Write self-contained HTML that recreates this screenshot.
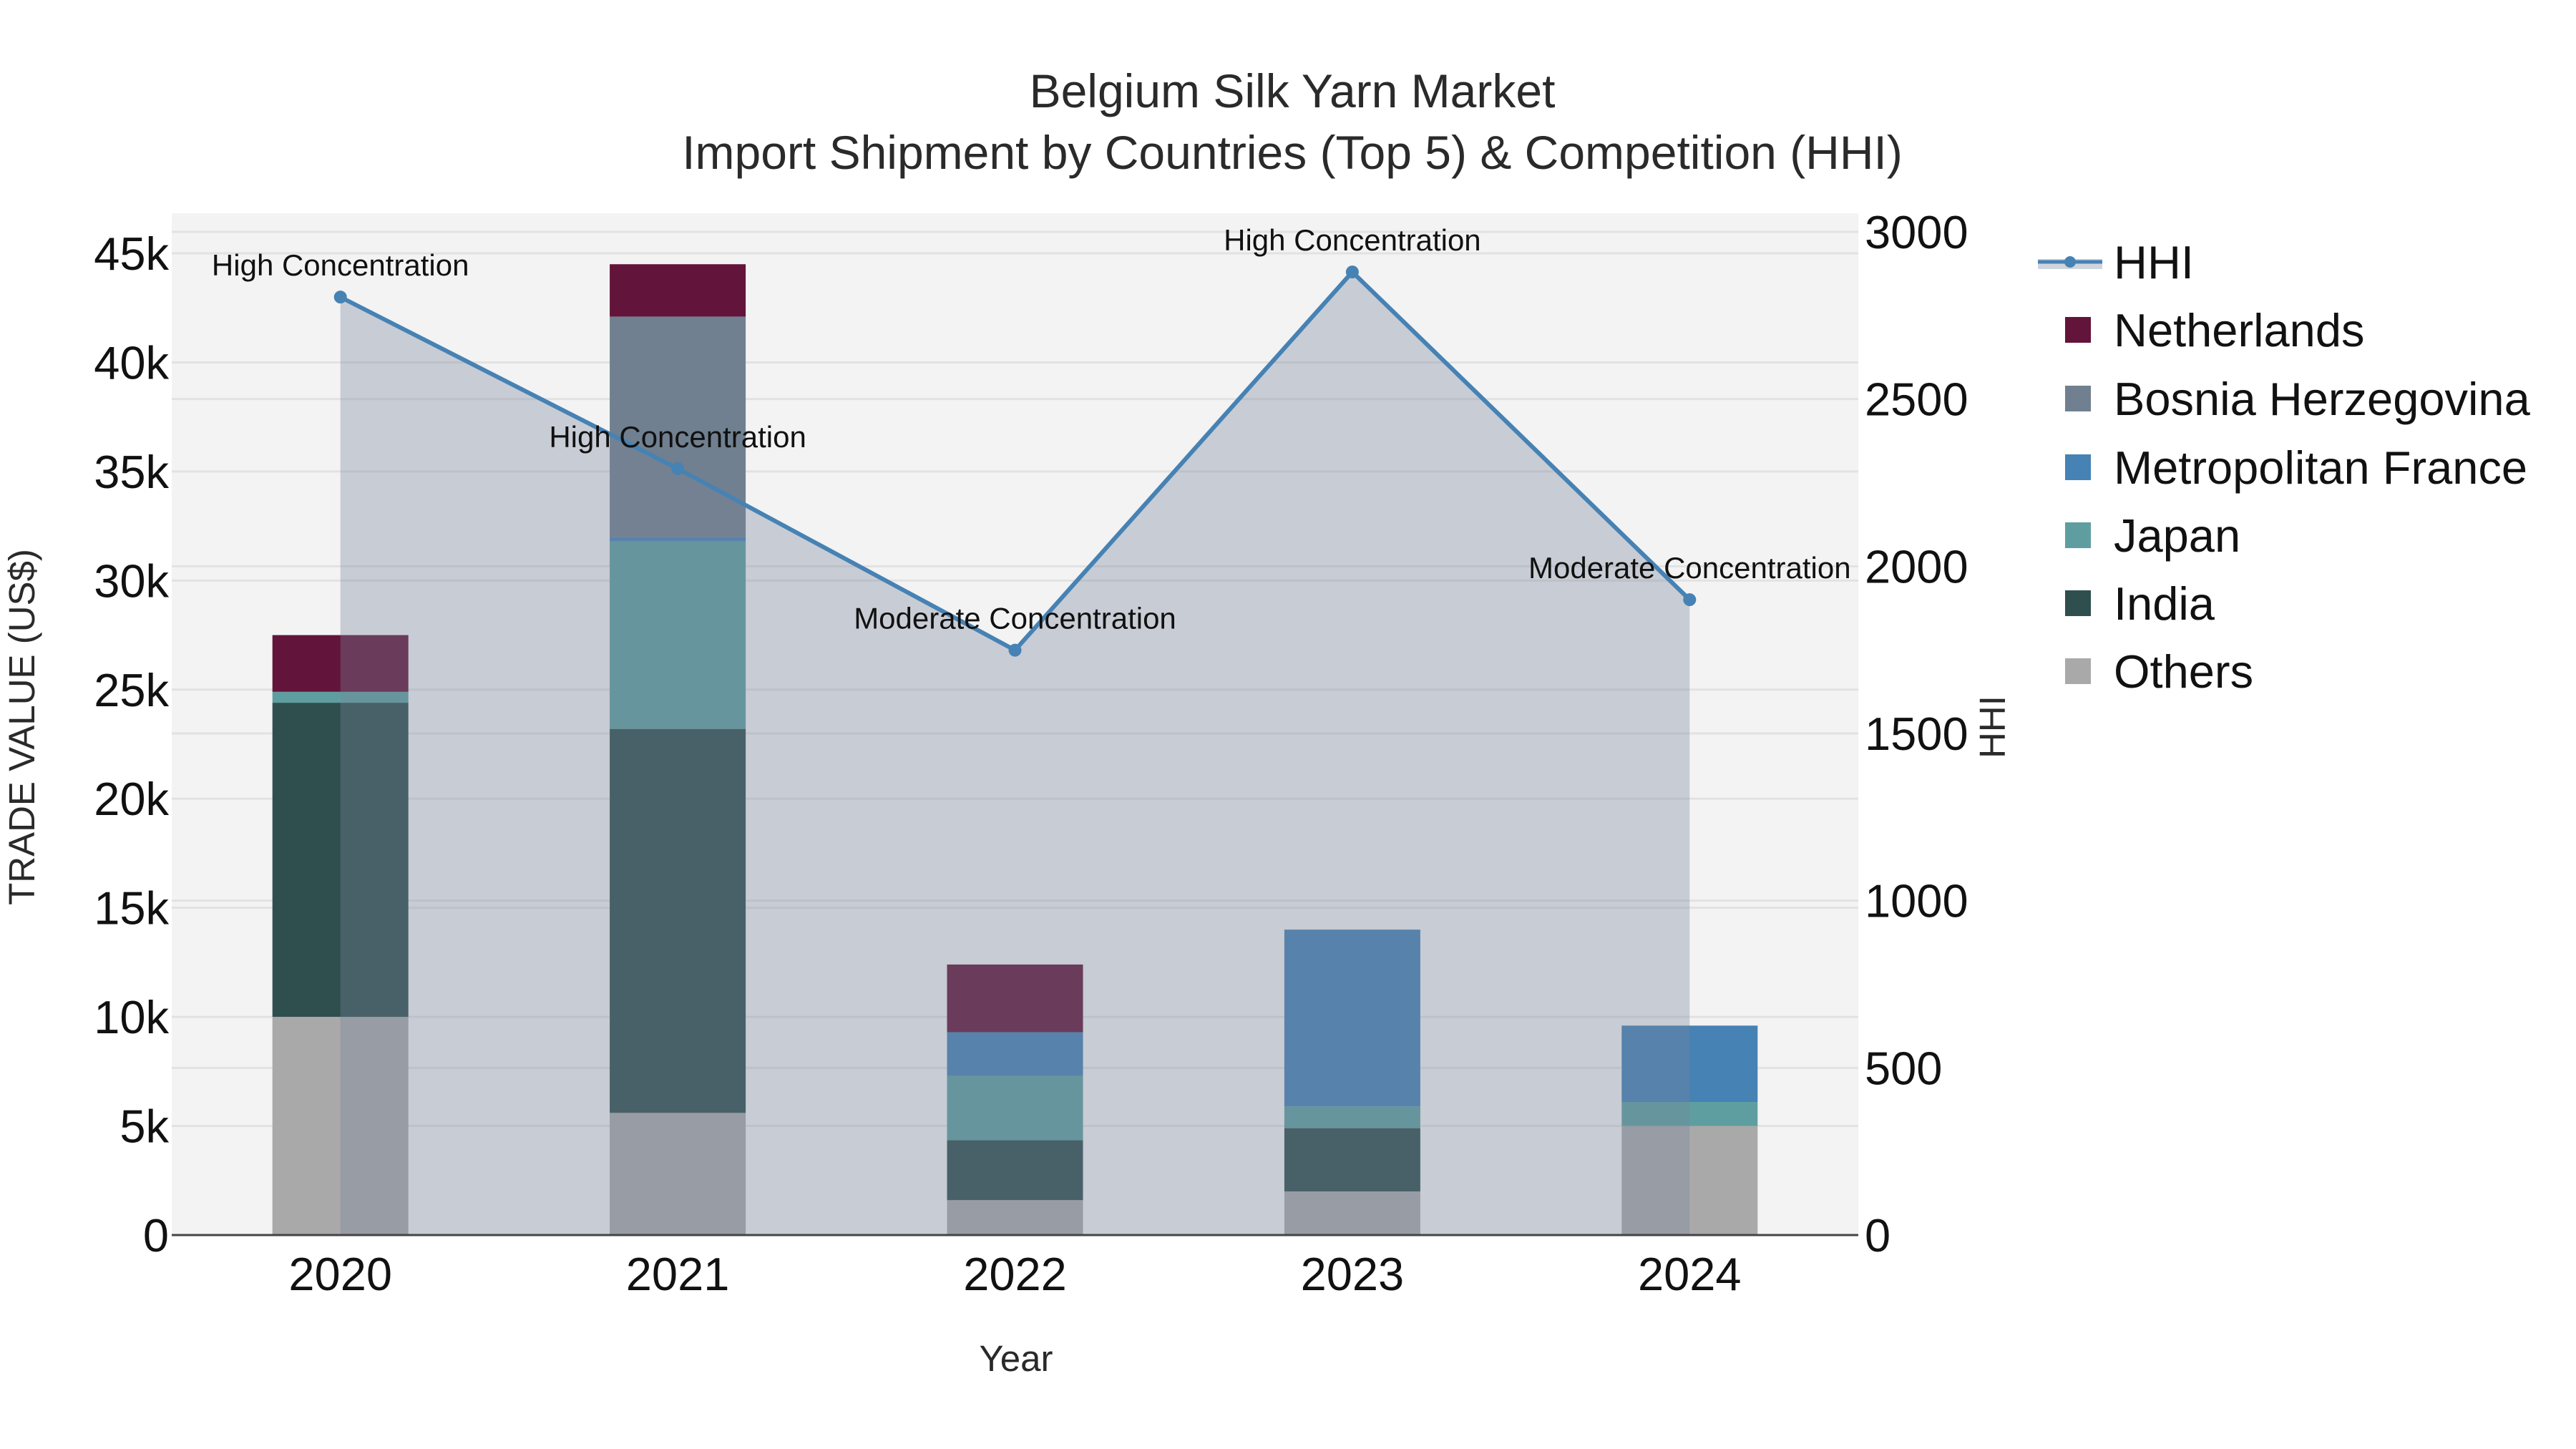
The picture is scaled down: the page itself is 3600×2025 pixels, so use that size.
<!DOCTYPE html>
<html><head><meta charset="utf-8"><style>
html,body{margin:0;padding:0;background:#fff;}
svg{display:block;font-family:"Liberation Sans",Arial,sans-serif;}
</style></head><body>
<svg id="chart" width="3600" height="2025" viewBox="0 0 3600 2025" xmlns="http://www.w3.org/2000/svg">
<rect x="0" y="0" width="3600" height="2025" fill="#fff"/>
<text x="1806" y="150" text-anchor="middle" font-size="66" fill="#2a2a2a">Belgium Silk Yarn Market</text>
<text x="1806" y="236" text-anchor="middle" font-size="66" fill="#2a2a2a">Import Shipment by Countries (Top 5) &amp; Competition (HHI)</text>
<rect x="240" y="298" width="2357" height="1428" fill="#f3f3f3"/>
<g id="grid"></g>
<g id="bars"></g>
<g id="hhi"></g>
<g id="axes"></g>
<text x="1420" y="1916" text-anchor="middle" font-size="51" fill="#2a2a2a">Year</text>
<text transform="translate(48,1016) rotate(-90)" text-anchor="middle" font-size="51" fill="#2a2a2a">TRADE VALUE (US$)</text>
<text transform="translate(2802,1016) rotate(-90)" text-anchor="middle" font-size="51" fill="#2a2a2a">HHI</text>
<g id="legend"></g>
</svg>
<script>
const years = ["2020","2021","2022","2023","2024"];
const others = [10000, 5600, 1600, 2000, 5000];
const india = [14400, 17600, 2750, 2900, 0];
const japan = [500, 8600, 2950, 1000, 1100];
const france = [0, 200, 2000, 8100, 3500];
const bosnia = [0, 10100, 0, 0, 0];
const netherlands = [2600, 2400, 3100, 0, 0];
const hhi = [2805, 2292, 1749, 2880, 1900];
const hhiLabels = ["High Concentration","High Concentration","Moderate Concentration","High Concentration","Moderate Concentration"];
const yTicks = [0,5000,10000,15000,20000,25000,30000,35000,40000,45000];
const y2Ticks = [0,500,1000,1500,2000,2500,3000];

const NS="http://www.w3.org/2000/svg";
const X0=240, X1=2597, ZERO=1726;
const band=(X1-X0)/years.length, barW=190;
const xc=i=>X0+band*(i+0.5);
const y=v=>ZERO-v*(1372/45000);
const y2=v=>ZERO-v*(1402/3000);
function mk(tag,attrs,parent){const e=document.createElementNS(NS,tag);for(const k in attrs)e.setAttribute(k,attrs[k]);parent.appendChild(e);return e;}
const fmt=v=>v===0?"0":(v/1000)+"k";

const grid=document.getElementById('grid');
yTicks.forEach(t=>{const l=mk('line',{x1:X0,x2:X1,y1:y(t),y2:y(t),stroke:'#e2e2e2','stroke-width':3},grid);

});
y2Ticks.forEach(t=>{const l=mk('line',{x1:X0,x2:X1,y1:y2(t),y2:y2(t),stroke:'#e2e2e2','stroke-width':3},grid);

});

const series=[["Others",others,"#a9a9a9"],["India",india,"#2f4f4f"],["Japan",japan,"#5f9ea0"],["Metropolitan France",france,"#4682b4"],["Bosnia Herzegovina",bosnia,"#708090"],["Netherlands",netherlands,"#63143a"]];
const bars=document.getElementById('bars');
years.forEach((yr,i)=>{let base=0;series.forEach(([name,vals,col])=>{const v=vals[i];if(v>0){const r=mk('rect',{x:xc(i)-barW/2,y:y(base+v),width:barW,height:y(base)-y(base+v),fill:col},bars);

}base+=v;});});

const hg=document.getElementById('hhi');
let d='M'+xc(0)+','+ZERO;hhi.forEach((v,i)=>{d+=' L'+xc(i)+','+y2(v);});d+=' L'+xc(hhi.length-1)+','+ZERO+' Z';
const area=mk('path',{d:d,fill:'rgba(120,131,154,0.35)'},hg);


const line=mk('polyline',{points:hhi.map((v,i)=>xc(i)+','+y2(v)).join(' '),fill:'none',stroke:'#4682b4','stroke-width':6},hg);


hhi.forEach((v,i)=>{const c=mk('circle',{cx:xc(i),cy:y2(v),r:9,fill:'#4682b4'},hg);


const t=mk('text',{x:xc(i),y:y2(v)-30,'text-anchor':'middle','font-size':42,fill:'#111'},hg);t.textContent=hhiLabels[i];

});

const ax=document.getElementById('axes');
const base=mk('line',{x1:X0,x2:X1,y1:ZERO,y2:ZERO,stroke:'#444','stroke-width':3},ax);


yTicks.forEach(t=>{const e=mk('text',{x:236,y:y(t)+23,'text-anchor':'end','font-size':65,fill:'#111'},ax);e.textContent=fmt(t);

});
y2Ticks.forEach(t=>{const e=mk('text',{x:2606,y:y2(t)+23,'text-anchor':'start','font-size':65,fill:'#111'},ax);e.textContent=String(t);

});
years.forEach((yr,i)=>{const e=mk('text',{x:xc(i),y:1803,'text-anchor':'middle','font-size':65,fill:'#111'},ax);e.textContent=yr;

});

const lg=document.getElementById('legend');
const items=[["HHI",null],["Netherlands","#63143a"],["Bosnia Herzegovina","#708090"],["Metropolitan France","#4682b4"],["Japan","#5f9ea0"],["India","#2f4f4f"],["Others","#a9a9a9"]];
const rows=[366,461,557,653,748,843,938];
items.forEach(([name,col],i)=>{const g=mk('g',{},lg);


const cy=rows[i];
if(col===null){mk('rect',{x:2848,y:cy-4,width:90,height:14,fill:'rgba(120,131,154,0.35)'},g);mk('line',{x1:2848,x2:2938,y1:cy,y2:cy,stroke:'#4682b4','stroke-width':5},g);mk('circle',{cx:2893,cy:cy,r:8,fill:'#4682b4'},g);}
else mk('rect',{x:2886,y:cy-18,width:36,height:36,fill:col},g);
const t=mk('text',{x:2954,y:cy+23,'font-size':65,fill:'#111'},g);t.textContent=name;});
</script>
</body></html>
